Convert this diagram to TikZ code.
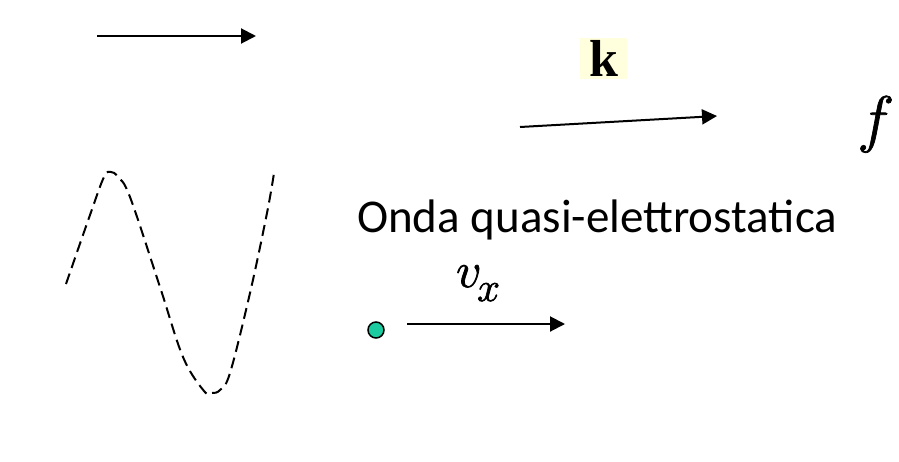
\RequirePackage{fix-cm}
\documentclass[tikz,border=0pt]{standalone}
\usepackage{fontspec}
\setmainfont{Liberation Serif}
\newfontfamily\carlito{Carlito}
\usetikzlibrary{arrows.meta}
\definecolor{kbg}{RGB}{255,255,221}
\definecolor{dotc}{RGB}{28,204,160}
\newcommand\heavytxt[1]{\special{pdf:literal direct 2 Tr 0.7 w}#1\special{pdf:literal direct 0 Tr}}
\begin{document}
\begin{tikzpicture}[x=1pt,y=-1pt,
  arr/.style={line width=2pt,-{Triangle[length=15pt,width=15pt]}},
  lbl/.style={inner sep=0pt, anchor=base west}]
\useasboundingbox (0,0) rectangle (899,461);
% top arrow
\coordinate (a1s) at (97,36);
\coordinate (a1e) at (256,36);
\draw[arr] (a1s) -- (a1e);
% k label
\node[fill=kbg, minimum width=47pt, minimum height=41pt, inner sep=0pt,
      font=\fontsize{52}{52}\selectfont\bfseries] (k) at (603.5,58.5) {k};
% k arrow
\coordinate (ks) at (520,127);
\coordinate (ke) at (717,116);
\draw[arr] (ks) -- (ke);
% f
\node[lbl, font=\fontsize{63}{63}\selectfont] (f) at (857,140) {\heavytxt{$f$}};
% text
\node[lbl, font=\carlito\fontsize{47}{47}\selectfont] (onda) at (357,232) {Onda quasi-elettrostatica};
% v_x
\node[lbl, font=\fontsize{50}{50}\selectfont] (v) at (456,287) {\heavytxt{$v$}};
\node[lbl, font=\fontsize{41}{41}\selectfont] (x) at (477,301) {\heavytxt{$x$}};
% particle
\node[circle, draw, fill=dotc, line width=1.5pt, minimum size=16pt, inner sep=0pt] (dot) at (376,330) {};
\coordinate (vs) at (407,324);
\coordinate (ve) at (565,324);
\draw[arr] (vs) -- (ve);
% dashed wave
\draw[line width=2pt, dash pattern=on 11pt off 6pt]
  plot[smooth, tension=0.6] coordinates {(66,284) (90,215) (104,177) (111,172) (118,177) (130,197) (160,287) (183,357) (204,391) (212,393) (220,390) (230,373) (250,293) (267,213) (274,173)};
\end{tikzpicture}
\end{document}
